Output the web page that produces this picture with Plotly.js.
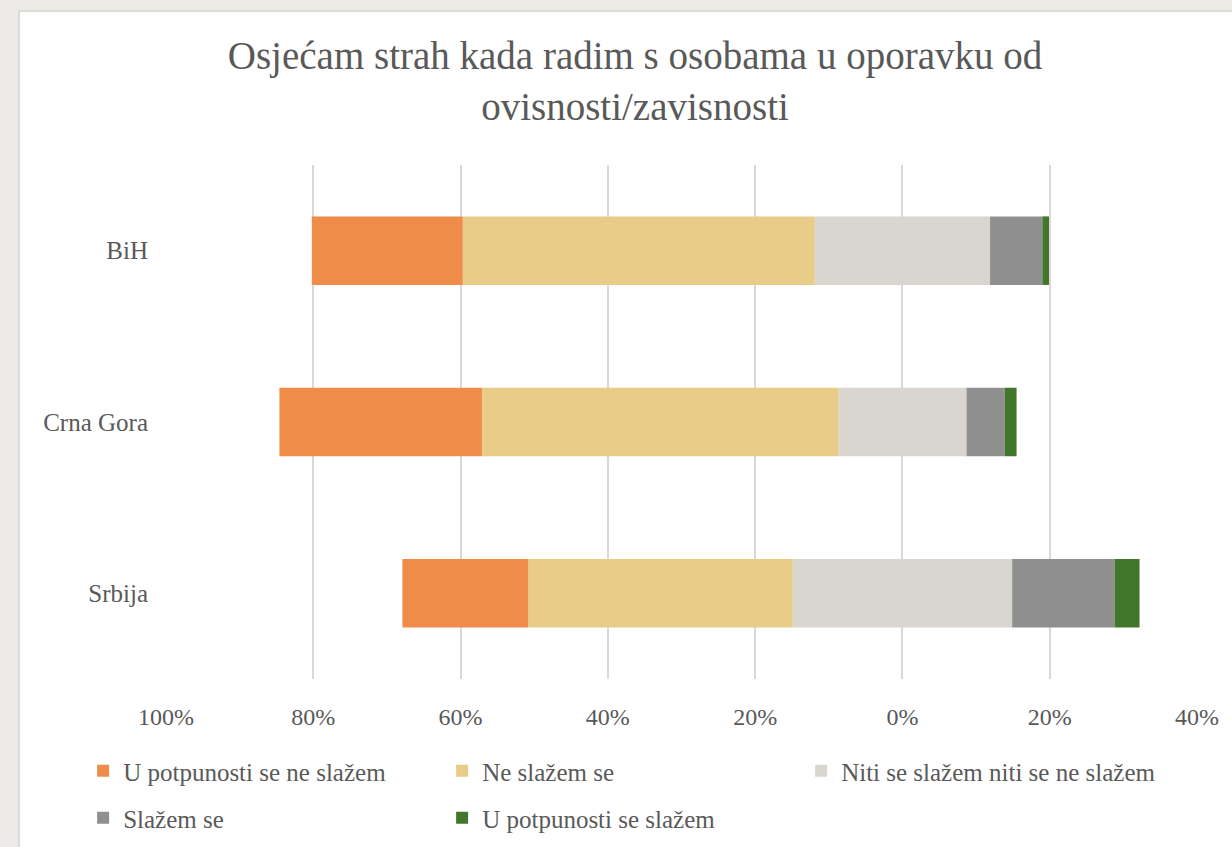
<!DOCTYPE html>
<html>
<head>
<meta charset="utf-8">
<script src="https://cdn.plot.ly/plotly-3.0.1.min.js"></script>
<style>
  html, body { margin: 0; padding: 0; background: #ebeae6; }
  #chart { position: absolute; left: 18px; top: 10px; width: 1214px; height: 837px;
           background: #ffffff; border-top: 2px solid #dcdbd8; border-left: 2px solid #dcdbd8; box-sizing: border-box; }
</style>
</head>
<body>
<div id="chart"></div>
<script>
const categories = ["BiH", "Crna Gora", "Srbija"];
const seriesNames = ["U potpunosti se ne slažem", "Ne slažem se", "Niti se slažem niti se ne slažem", "Slažem se", "U potpunosti se slažem"];
const stronglyDisagree = [20.5, 27.5, 17.1];
const disagree = [47.8, 48.4, 35.9];
const neutral = [23.8, 17.4, 29.8];
const agree = [7.1, 5.2, 13.9];
const stronglyAgree = [0.9, 1.6, 3.4];
const tickValues = [-100, -80, -60, -40, -20, 0, 20, 40];
const tickLabels = ["100%", "80%", "60%", "40%", "20%", "0%", "20%", "40%"];

const colors = ["#ef8c4a", "#e8cc88", "#d9d5cf", "#8f8f8f", "#41772a"];
const fontFam = "Liberation Serif, Times New Roman, serif";
const textColor = "#595959";

function bar(name, x, color, opts) {
  return Object.assign({
    type: "bar", orientation: "h", name: name, y: categories, x: x,
    marker: { color: color, line: { width: 0 } },
    hoverinfo: "skip"
  }, opts || {});
}

const neg = v => v.map(a => -a);
const half = v => v.map(a => a / 2);

const traces = [
  bar(seriesNames[2], neg(half(neutral)), colors[2], { legendgroup: "n", showlegend: false }),
  bar(seriesNames[1], neg(disagree), colors[1], { legend: "legend", legendrank: 2 }),
  bar(seriesNames[0], neg(stronglyDisagree), colors[0], { legend: "legend", legendrank: 1 }),
  bar(seriesNames[2], half(neutral), colors[2], { legendgroup: "n", legend: "legend3", legendrank: 3 }),
  bar(seriesNames[3], agree, colors[3], { legend: "legend2", legendrank: 4 }),
  bar(seriesNames[4], stronglyAgree, colors[4], { legend: "legend2", legendrank: 5 })
];

const legendCommon = {
  orientation: "h", xref: "container", yref: "container", yanchor: "middle", xanchor: "left",
  x: 0.052, font: { family: fontFam, size: 25, color: textColor },
  entrywidth: 314, entrywidthmode: "pixels", bgcolor: "rgba(0,0,0,0)", traceorder: "normal"
};

const layout = {
  width: 1214, height: 837,
  paper_bgcolor: "rgba(0,0,0,0)", plot_bgcolor: "rgba(0,0,0,0)",
  margin: { l: 146, r: 37, t: 153, b: 169.5 },
  barmode: "relative", bargap: 0.6,
  font: { family: fontFam, color: textColor },
  title: {
    text: "Osjećam strah kada radim s osobama u oporavku od<br>ovisnosti/zavisnosti",
    font: { family: fontFam, size: 39, color: textColor },
    xref: "container", x: 0.5066, xanchor: "center",
    yref: "container", y: 0.932, yanchor: "top"
  },
  xaxis: {
    range: [-100, 40], tickvals: tickValues, ticktext: tickLabels,
    showgrid: true, gridcolor: "#d9d9d9", gridwidth: 2, zeroline: false,
    showline: false, ticks: "", ticklabelstandoff: 21,
    tickfont: { family: fontFam, size: 24, color: textColor }, fixedrange: true
  },
  yaxis: {
    type: "category", autorange: "reversed", showgrid: false, zeroline: false, showline: false,
    ticks: "", ticklabelstandoff: 17,
    tickfont: { family: fontFam, size: 25, color: textColor }, fixedrange: true
  },
  legend: Object.assign({}, legendCommon, { y: 1 - 759 / 837 }),
  legend3: Object.assign({}, legendCommon, { x: 0.052 + 718 / 1214, y: 1 - 759 / 837 }),
  legend2: Object.assign({}, legendCommon, { y: 1 - 806 / 837 })
};

Plotly.newPlot("chart", traces, layout, { displayModeBar: false, staticPlot: true });
</script>
</body>
</html>
